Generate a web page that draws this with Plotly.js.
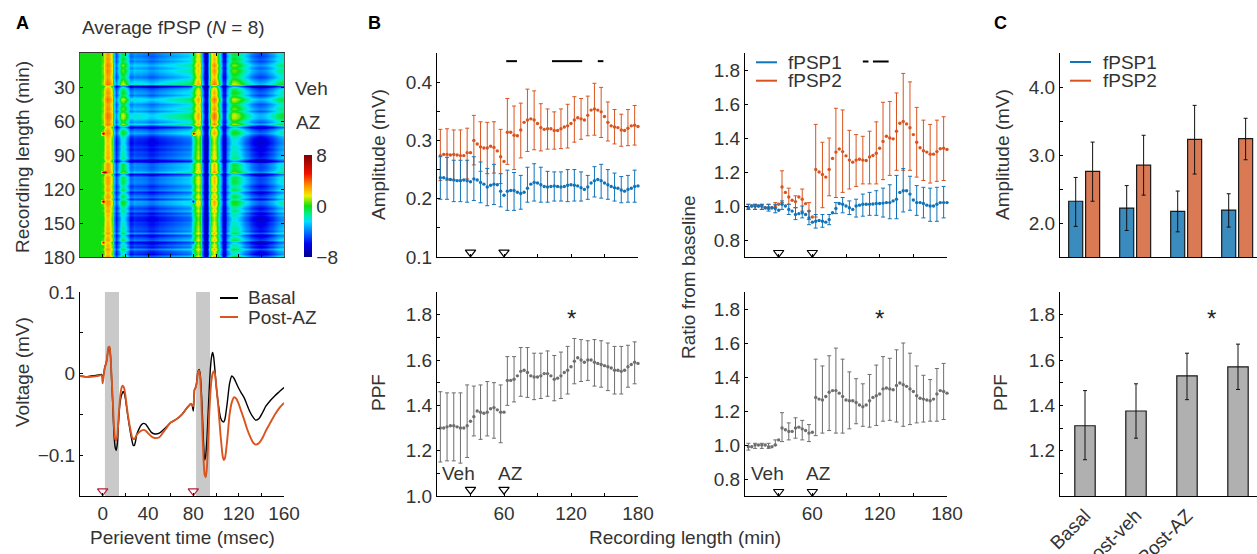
<!DOCTYPE html>
<html><head><meta charset="utf-8">
<script src="https://cdn.plot.ly/plotly-3.0.1.min.js"></script>
<style>html,body{margin:0;padding:0;background:#fff;overflow:hidden}#c{width:1257px;height:554px}</style>
</head><body><div id="c"></div>
<script>
// ---------- DATA ----------
const heatTimes=[-20,-18,-16,-14,-12,-10,-8,-6,-4,-2,0,2,4,6,8,10,12,14,16,18,20,22,24,26,28,30,32,34,36,38,40,42,44,46,48,50,52,54,56,58,60,62,64,66,68,70,72,74,76,78,80,82,84,86,88,90,92,94,96,98,100,102,104,106,108,110,112,114,116,118,120,122,124,126,128,130,132,134,136,138,140,142,144,146,148,150,152,154,156,158,160];
const heatProfile=[0,0,0,0,0,0,0,0,0,0,0.3,2,2.9,2.6,1,-3,-5,-3,-1.2,-0.8,-1.5,-3,-4.5,-4.5,-4,-4.2,-4.2,-4.2,-4.3,-4.4,-4.6,-4.8,-4.8,-4.6,-4.5,-4.3,-4.2,-4.1,-4,-3.9,-3.8,-3.7,-3.6,-3.5,-3.4,-3.3,-3.2,-3.1,-3,-2.6,-1,0.8,1.5,0.6,-3.5,-7,-7,-2.5,1,2.2,1.4,-0.5,-3.5,-6,-6,-3.5,-2,-1,-0.8,-1,-1.5,-2,-2.5,-3,-3.5,-4,-4.4,-4.8,-5,-5.2,-5.2,-5,-4.8,-4.5,-4.2,-3.8,-3.4,-3,-2.7,-2.4,-2.2];
const heatRows=[1,3,5,7,9,11,13,15,17,19,21,23,25,27,29,31,33,35,37,39,41,43,45,47,49,51,53,55,57,59,61,63,65,67,69,71,73,75,77,79,81,83,85,87,89,91,93,95,97,99,101,103,105,107,109,111,113,115,117,119,121,123,125,127,129,131,133,135,137,139,141,143,145,147,149,151,153,155,157,159,161,163,165,167,169,171,173,175,177,179];
const rowOffset=[0.5,0.2,0.8,0.3,1,1.6,0.8,1.4,1.2,0.6,0.2,0.9,1.5,2.2,-2.5,-0.3,0.4,0.9,0.2,1.2,2.2,1.4,0.5,0.9,1.5,0.6,1.8,2.2,2,1.2,0.7,1.9,-2,-0.2,0.5,1,-0.5,-1,-1.2,-1.4,-1.1,-0.8,-1.2,-0.6,-0.8,-0.5,-0.2,-2.6,0.2,0.5,0.3,0.6,1.4,-1.8,0.4,0.2,0.4,0.3,-0.6,-0.2,0.3,-1.2,0,0.5,-0.9,0.9,0.7,-0.1,-0.7,0.1,-1.2,-0.6,-1.3,-1.4,-0.9,-1,-0.7,-0.4,-0.8,0.6,-1.5,-0.3,0.2,-1.8,-0.5,-1,0.6,-0.7,-1.2,0.3];
const colBlend=[0,0,0,0,0,0,0,0,0,0,0.3,0.4,0.4,0.4,0.5,0.6,0.6,0.8,1,1,1,1,1,1,1,1,1,1,1,1,1,1,1,1,1,1,1,1,1,1,1,1,1,1,1,1,1,1,1,1,0.6,0.6,0.6,0.6,0.6,0.3,0.3,0.6,0.7,0.7,0.7,0.7,0.6,0.4,0.4,0.6,0.8,1,1,1,1,1,1,1,1,1,1,1,1,1,1,1,1,1,1,1,1,1,1,1,1];
const spikeRow=[35,35,52,52,65,65,83,83];
const spikeCol=[10,50,10,11,10,50,10,50];
const spikeVal=[7.5,7.5,7.5,7,8,-7,6,-5];

const traceTime=[-20,-15,-10,-5,-1,0,1,2,3,4,5,6,7,8,9,10,11,12,13,14,15,16,17,18,19,20,22,24,26,27,28,29,30,32,34,36,38,40,43,46,50,55,60,65,70,75,78,79,80,81,82,83,84,85,86,87,88,89,90,91,92,93,94,95,96,97,98,99,100,102,104,106,107,108,110,112,114,116,118,120,122,125,127,130,133,135,138,141,144,148,152,156,160];
const basal=[-0.003,-0.004,-0.003,-0.002,-0.001,-0.005,0,0.009,0.012,0.02,0.031,0.033,0.02,-0.01,-0.04,-0.075,-0.09,-0.094,-0.085,-0.06,-0.04,-0.03,-0.025,-0.022,-0.024,-0.03,-0.05,-0.068,-0.083,-0.088,-0.088,-0.083,-0.075,-0.068,-0.063,-0.061,-0.062,-0.066,-0.072,-0.074,-0.073,-0.067,-0.06,-0.056,-0.05,-0.041,-0.037,-0.039,-0.046,-0.02,-0.017,-0.01,0.002,0.005,0,-0.02,-0.05,-0.085,-0.106,-0.1,-0.08,-0.05,-0.02,0.005,0.02,0.026,0.02,0.005,-0.012,-0.037,-0.054,-0.059,-0.059,-0.055,-0.035,-0.012,-0.003,-0.006,-0.012,-0.018,-0.023,-0.03,-0.037,-0.047,-0.054,-0.057,-0.055,-0.048,-0.04,-0.033,-0.027,-0.022,-0.017];
const postAZ=[-0.003,-0.004,-0.004,-0.003,-0.002,-0.012,-0.002,0.008,0.012,0.02,0.032,0.033,0.02,-0.008,-0.035,-0.065,-0.08,-0.082,-0.075,-0.055,-0.035,-0.022,-0.016,-0.015,-0.018,-0.026,-0.048,-0.065,-0.078,-0.08,-0.08,-0.078,-0.075,-0.072,-0.07,-0.069,-0.07,-0.073,-0.077,-0.079,-0.078,-0.069,-0.06,-0.056,-0.05,-0.041,-0.037,-0.039,-0.04,-0.02,-0.017,-0.012,0.001,0.004,-0.004,-0.03,-0.07,-0.105,-0.124,-0.127,-0.115,-0.085,-0.05,-0.025,-0.008,0,0.003,0,-0.012,-0.04,-0.075,-0.102,-0.106,-0.103,-0.08,-0.05,-0.035,-0.029,-0.031,-0.037,-0.045,-0.057,-0.066,-0.077,-0.085,-0.087,-0.085,-0.079,-0.07,-0.06,-0.05,-0.042,-0.036];

const minutes=[3,6,9,12,15,18,21,24,27,30,33,36,39,42,45,48,51,54,57,60,63,66,69,72,75,78,81,84,87,90,93,96,99,102,105,108,111,114,117,120,123,126,129,132,135,138,141,144,147,150,153,156,159,162,165,168,171,174,177,180];
const ampF2=[0.274,0.276,0.276,0.275,0.276,0.275,0.274,0.274,0.279,0.279,0.300,0.294,0.289,0.287,0.287,0.290,0.288,0.282,0.272,0.264,0.314,0.314,0.309,0.308,0.318,0.331,0.335,0.337,0.335,0.329,0.322,0.319,0.320,0.320,0.317,0.317,0.320,0.323,0.325,0.329,0.335,0.339,0.337,0.335,0.343,0.352,0.354,0.352,0.349,0.341,0.331,0.325,0.323,0.322,0.318,0.317,0.321,0.325,0.326,0.324];
const ampF2Hi=[.319,.320,.318,.318,.321,.343,.332,.331,.332,.319,.372,.359,.364,.388,.385,.363,.354,.349,.354,.362,.375,.372,.376,.398,.391,.366,.353,.345,.353,.360];
const ampF2Lo=[.231,.232,.232,.232,.234,.258,.247,.243,.244,.226,.259,.250,.270,.281,.284,.282,.285,.285,.286,.287,.297,.302,.308,.309,.305,.299,.294,.290,.291,.292];
const ampF1=[.236,.236,.234,.233,.232,.231,.231,.232,.231,.229,.234,.232,.228,.225,.220,.223,.225,.224,.213,.206,.213,.214,.214,.211,.209,.211,.218,.225,.228,.227,.224,.221,.220,.221,.222,.221,.220,.221,.223,.224,.223,.222,.219,.216,.220,.227,.231,.233,.231,.227,.224,.221,.219,.218,.215,.213,.216,.218,.221,.222];
const ampF1Hi=[.272,.271,.266,.266,.266,.272,.263,.252,.259,.243,.249,.245,.240,.254,.260,.254,.247,.246,.246,.250,.250,.246,.240,.255,.259,.250,.244,.238,.240,.249];
const ampF1Lo=[.199,.199,.195,.195,.194,.197,.193,.188,.190,.186,.180,.180,.182,.194,.196,.194,.194,.196,.196,.195,.196,.196,.199,.203,.201,.199,.196,.193,.194,.194];
const ratF2=[.99,1,1,1,1,.99,.99,.99,1,1.01,1.112,1.08,1.053,1.034,1.026,1.053,1.04,1.014,.97,.935,1.215,1.2,1.185,1.17,1.215,1.28,1.317,1.335,1.32,1.295,1.27,1.258,1.27,1.275,1.27,1.268,1.288,1.297,1.31,1.34,1.38,1.41,1.4,1.395,1.44,1.487,1.497,1.483,1.46,1.42,1.375,1.343,1.325,1.317,1.305,1.305,1.32,1.337,1.34,1.333];
const ratF2Hi=[1.01,1.01,1.01,1.01,1.02,1.207,1.105,1.06,1.1,1.02,1.48,1.375,1.4,1.575,1.565,1.445,1.42,1.41,1.44,1.495,1.61,1.615,1.665,1.78,1.73,1.58,1.505,1.48,1.505,1.525];
const ratF2Lo=[.98,.98,.98,.98,.99,1.02,1.01,.99,.97,.92,.935,.99,1.06,1.05,1.08,1.1,1.115,1.13,1.13,1.13,1.155,1.18,1.21,1.21,1.21,1.17,1.15,1.135,1.145,1.15];
const ratF1=[.99,1,1,1,1,.99,.99,.99,.985,.975,1.01,1,.98,.97,.95,.955,.96,.95,.93,.905,.91,.915,.91,.905,.92,.96,.985,1.015,1.01,1,.99,.98,1,1.005,1.01,1.01,1.01,1.012,1.015,1.015,1.017,1.02,1.02,1.03,1.04,1.08,1.09,1.09,1.07,1.035,1.02,1.02,1.015,1.005,1,1,1.01,1.02,1.02,1.02];
const ratF1Hi=[1.01,1.01,1.01,1.01,1.01,1.03,1.01,.99,1,.97,.95,.95,.95,1.02,1.05,1.03,1.04,1.07,1.08,1.09,1.105,1.125,1.18,1.22,1.175,1.12,1.11,1.105,1.11,1.115];
const ratF1Lo=[.98,.98,.98,.97,.96,.98,.95,.92,.93,.89,.87,.875,.89,.955,.96,.95,.935,.94,.945,.945,.935,.925,.925,.965,.975,.945,.93,.91,.91,.93];
const ppf=[1.30,1.30,1.305,1.31,1.31,1.305,1.30,1.30,1.31,1.33,1.35,1.375,1.37,1.365,1.37,1.385,1.39,1.38,1.37,1.37,1.51,1.51,1.515,1.53,1.55,1.555,1.545,1.53,1.525,1.525,1.53,1.54,1.54,1.53,1.515,1.52,1.53,1.545,1.555,1.57,1.595,1.61,1.60,1.59,1.60,1.60,1.59,1.585,1.58,1.575,1.57,1.565,1.555,1.555,1.55,1.555,1.57,1.58,1.59,1.585];
const ppfHi=[1.46,1.455,1.455,1.455,1.49,1.485,1.49,1.505,1.50,1.49,1.615,1.615,1.655,1.655,1.63,1.63,1.64,1.62,1.635,1.66,1.695,1.69,1.685,1.69,1.685,1.675,1.66,1.66,1.665,1.68];
const ppfLo=[1.15,1.155,1.155,1.145,1.17,1.265,1.25,1.265,1.255,1.235,1.40,1.415,1.44,1.435,1.425,1.43,1.44,1.42,1.43,1.45,1.495,1.505,1.51,1.485,1.48,1.465,1.45,1.45,1.48,1.495];
const ppfR=[.99,.99,1,1,1,1,.99,.99,1,1.03,1.10,1.09,1.08,1.08,1.10,1.105,1.095,1.085,1.07,1.075,1.28,1.27,1.265,1.285,1.31,1.32,1.32,1.305,1.285,1.265,1.26,1.26,1.25,1.235,1.225,1.235,1.26,1.28,1.29,1.30,1.33,1.335,1.33,1.325,1.35,1.365,1.355,1.345,1.33,1.315,1.29,1.275,1.27,1.265,1.26,1.27,1.30,1.32,1.315,1.305];
const ppfRHi=[1.01,1.01,1.01,1.01,1.03,1.19,1.13,1.16,1.145,1.12,1.505,1.465,1.525,1.57,1.505,1.43,1.39,1.36,1.415,1.47,1.52,1.51,1.56,1.60,1.54,1.465,1.41,1.385,1.45,1.48];
const ppfRLo=[.97,.98,.98,.98,1,1.02,1.03,1.04,1.03,1.02,1.055,1.07,1.085,1.07,1.07,1.095,1.125,1.11,1.105,1.115,1.14,1.145,1.135,1.11,1.12,1.13,1.135,1.14,1.14,1.15];

const sigAmpX=[62,71.6,null,103,130,null,144,149];
const sigRatX=[105,110,null,114,128];
const drugMin=[30,60];
const stimMs=[0,80];

const groups=['Basal','Post-veh','Post-AZ','Post-AZ<br>(late)'];
const groupPos=[0,1,2,3];
const barF1=[2.32,2.22,2.17,2.19], barF1Hi=[2.67,2.55,2.47,2.43], barF1Lo=[1.95,1.89,1.87,1.94];
const barF2=[2.76,2.85,3.23,3.24], barF2Hi=[3.19,3.29,3.73,3.54], barF2Lo=[2.32,2.41,2.72,2.93];
const barPPF=[1.31,1.375,1.53,1.57], barPPFHi=[1.465,1.495,1.63,1.67], barPPFLo=[1.16,1.255,1.425,1.47];

// ---------- STYLE ----------
const W=1257,H=554, FONT='"Liberation Sans", Arial, sans-serif', TXT='#333333', FS=19;
const BLUE='#1173ba', ORANGE='#d9541e', GREY='#6e6e6e', CRIM='#b3203f';
const px=(a,b)=>[a/W,b/W], py=(top,bot)=>[1-bot/H,1-top/H];
const zHeat=heatRows.map((_,r)=>heatProfile.map((v,c)=>v+rowOffset[r]*colBlend[c]));
spikeRow.forEach((r,i)=>{zHeat[r][spikeCol[i]]=spikeVal[i];});

function ax(n,dom,range,vals,labels,extra){
  const other=(n.charAt(0)==='x'?'y':'x')+n.slice(1);
  return Object.assign({anchor:other,domain:dom,range:range,tickmode:'array',tickvals:vals,ticktext:labels||vals.map(()=>''),ticks:'inside',ticklen:3,
    tickcolor:'#000',tickwidth:1,showgrid:false,zeroline:false,showline:true,linecolor:'#000',linewidth:1,
    tickfont:{family:FONT,size:FS,color:TXT},fixedrange:true},extra||{});
}
const lab=(vals,show)=>vals.map(v=>show.includes(v)?String(v).replace('-','\u2212'):'');
const X30=[0,30,60,90,120,150,180];

const traces=[];
traces.push({type:'heatmap',x:heatTimes,y:heatRows,z:zHeat,zmin:-8,zmax:8,zsmooth:'best',xaxis:'x',yaxis:'y',
  colorscale:[[0,'#00008b'],[0.13,'#0000f0'],[0.24,'#0070ff'],[0.35,'#00e0ff'],[0.42,'#00f090'],[0.5,'#10e010'],[0.6,'#f0f000'],[0.7,'#ff9000'],[0.82,'#f01000'],[1,'#800000']],
  colorbar:{x:304/W,xanchor:'left',y:1-257/H,yanchor:'bottom',len:102,lenmode:'pixels',thickness:8,thicknessmode:'pixels',xpad:0,ypad:0,
    tickmode:'array',tickvals:[-8,0,8],ticktext:['\u22128','0','8'],ticks:'',tickfont:{family:FONT,size:FS,color:TXT},outlinewidth:0},hoverinfo:'skip'});
const tri=(xs,ys,xa,ya,sym,col,sz)=>({type:'scatter',mode:'markers',x:xs,y:ys,xaxis:xa,yaxis:ya,cliponaxis:false,showlegend:false,hoverinfo:'skip',
  marker:{symbol:sym,size:sz||9,color:'rgba(0,0,0,0)',line:{color:col,width:1.2}}});
traces.push(tri(stimMs,[-3.6,-3.6],'x','y','triangle-down',CRIM));
traces.push(tri([164,164],[30,60],'x','y','triangle-left','#000',8));
const line=(x,y,col,w,xa,ya)=>({type:'scatter',mode:'lines',x,y,xaxis:xa,yaxis:ya,line:{color:col,width:w,shape:'spline',smoothing:0.6},showlegend:false,hoverinfo:'skip'});
traces.push(line(traceTime,basal,'#000',1.4,'x2','y2'));
traces.push(line(traceTime,postAZ,ORANGE,1.9,'x2','y2'));
traces.push(tri(stimMs,[-0.144,-0.144],'x2','y2','triangle-down',CRIM));

function series(y,hi,lo,col,xa,ya){
  const ex=minutes.filter((_,i)=>i%2===0), ey=y.filter((_,i)=>i%2===0);
  traces.push({type:'scatter',mode:'markers',x:ex,y:ey,xaxis:xa,yaxis:ya,marker:{size:1,opacity:0},showlegend:false,hoverinfo:'skip',cliponaxis:false,
    error_y:{type:'data',symmetric:false,array:hi.map((h,i)=>h-ey[i]),arrayminus:lo.map((l,i)=>ey[i]-l),color:col,thickness:1,width:2}});
  traces.push({type:'scatter',mode:'markers',x:minutes,y,xaxis:xa,yaxis:ya,marker:{size:3.4,color:col},showlegend:false,hoverinfo:'skip',cliponaxis:false});
}
series(ampF2,ampF2Hi,ampF2Lo,ORANGE,'x3','y3'); series(ampF1,ampF1Hi,ampF1Lo,BLUE,'x3','y3');
series(ratF2,ratF2Hi,ratF2Lo,ORANGE,'x4','y4'); series(ratF1,ratF1Hi,ratF1Lo,BLUE,'x4','y4');
series(ppf,ppfHi,ppfLo,GREY,'x5','y5'); series(ppfR,ppfRHi,ppfRLo,GREY,'x6','y6');
traces.push(tri(drugMin,[0.108,0.108],'x3','y3','triangle-down','#000'));
traces.push(tri(drugMin,[0.725,0.725],'x4','y4','triangle-down','#000'));
traces.push(tri(drugMin,[1.028,1.028],'x5','y5','triangle-down','#000'));
traces.push(tri(drugMin,[0.725,0.725],'x6','y6','triangle-down','#000'));
const sig=(xs,v,xa,ya)=>({type:'scatter',mode:'lines',x:xs,y:xs.map(q=>q===null?null:v),xaxis:xa,yaxis:ya,line:{color:'#000',width:2},showlegend:false,hoverinfo:'skip',cliponaxis:false,connectgaps:false});
traces.push(sig(sigAmpX,0.436,'x3','y3'));
traces.push(sig(sigRatX,1.85,'x4','y4'));

const bar=(y,hi,lo,col,xa,ya,extra)=>Object.assign({type:'bar',x:groupPos,y,xaxis:xa,yaxis:ya,marker:{color:col,line:{color:'#1a1a1a',width:1.2}},showlegend:false,hoverinfo:'skip',
  error_y:{type:'data',symmetric:false,array:hi.map((h,i)=>h-y[i]),arrayminus:lo.map((l,i)=>y[i]-l),color:'#111',thickness:1,width:2}},extra||{});
traces.push(bar(barF1,barF1Hi,barF1Lo,'#3a8cbf','x7','y7',{width:0.275,offset:-0.32}));
traces.push(bar(barF2,barF2Hi,barF2Lo,'#d97a55','x7','y7',{width:0.275,offset:0.012}));
traces.push(bar(barPPF,barPPFHi,barPPFLo,'#b0b0b0','x8','y8',{width:0.4}));

const CR=[-25/51,172/51];
const layout={width:W,height:H,margin:{l:0,r:0,t:0,b:0,autoexpand:false},paper_bgcolor:'#fff',plot_bgcolor:'#fff',showlegend:false,
  font:{family:FONT,size:FS,color:TXT},barmode:'overlay',
  xaxis:ax('x',px(80,284),[-20,160],[0,20,40,60,80,100,120,140,160],null,{mirror:'ticks',linecolor:'#333'}),
  yaxis:ax('y',py(53,257),[180,0],[30,60,90,120,150,180],['30','60','90','120','150','180'],{mirror:'ticks',linecolor:'#555'}),
  xaxis2:ax('x2',px(80,284),[-20,160],[-20,0,20,40,60,80,100,120,140,160],lab([-20,0,20,40,60,80,100,120,140,160],[0,40,80,120,160])),
  yaxis2:ax('y2',py(292,496),[-0.15,0.1],[-0.15,-0.1,-0.05,0,0.05,0.1],['','\u22120.1','','0','','0.1']),
  xaxis3:ax('x3',px(437,638),[0,180],X30,null),
  yaxis3:ax('y3',py(53,257),[0.1,0.45],[0.1,0.15,0.2,0.25,0.3,0.35,0.4,0.45],['0.1','','0.2','','0.3','','0.4','']),
  xaxis4:ax('x4',px(745,947),[0,180],X30,null),
  yaxis4:ax('y4',py(53,257),[0.7,1.9],[0.8,1,1.2,1.4,1.6,1.8],['0.8','1.0','1.2','1.4','1.6','1.8']),
  xaxis5:ax('x5',px(437,638),[0,180],X30,lab(X30,[60,120,180])),
  yaxis5:ax('y5',py(292,496),[1,1.9],[1,1.1,1.2,1.3,1.4,1.5,1.6,1.7,1.8,1.9],['1.0','','1.2','','1.4','','1.6','','1.8','']),
  xaxis6:ax('x6',px(745,947),[0,180],X30,lab(X30,[60,120,180])),
  yaxis6:ax('y6',py(292,496),[0.7,1.9],[0.8,1,1.2,1.4,1.6,1.8],['0.8','1.0','1.2','1.4','1.6','1.8']),
  xaxis7:ax('x7',px(1060,1257),CR,[],[],{}),
  yaxis7:ax('y7',py(53,257),[1.5,4.5],[1.5,2,2.5,3,3.5,4,4.5],['','2.0','','3.0','','4.0','']),
  xaxis8:ax('x8',px(1060,1257),CR,groupPos,groups,{ticks:'',tickangle:-45}),
  yaxis8:ax('y8',py(292,496),[1,1.9],[1,1.1,1.2,1.3,1.4,1.5,1.6,1.7,1.8,1.9],['','','1.2','','1.4','','1.6','','1.8','']),
  shapes:[],annotations:[]
};
[[2,14.4],[82.4,94.7]].forEach(e=>layout.shapes.push({type:'rect',xref:'x2',yref:'y2',x0:e[0],x1:e[1],y0:-0.15,y1:0.1,fillcolor:'#c9c9c9',line:{width:0},layer:'below'}));
const lg=(x0,x1,y,c,w)=>layout.shapes.push({type:'line',xref:'paper',yref:'paper',x0:x0/W,x1:x1/W,y0:1-y/H,y1:1-y/H,line:{color:c,width:w||2}});
lg(220,238,298,'#000');lg(220,238,317,ORANGE);
lg(756,777,62.3,BLUE);lg(756,777,80.7,ORANGE);
lg(1070,1091,62,BLUE);lg(1070,1091,80.7,ORANGE);
const T=(txt,x,y,o)=>layout.annotations.push(Object.assign({text:txt,xref:'paper',yref:'paper',x:x/W,y:1-y/H,xanchor:'center',yanchor:'middle',showarrow:false,font:{family:FONT,size:FS,color:TXT}},o||{}));
const bold={font:{family:FONT,size:18,color:'#000'}};
T('<b>A</b>',22,23,bold);T('<b>B</b>',375,23,bold);T('<b>C</b>',1000,23,bold);
T('Average fPSP (<i>N</i> = 8)',173,27);
T('Veh',311,88);T('AZ',308,122);
T('Recording length (min)',22,157,{textangle:-90});
T('Voltage (mV)',22,372,{textangle:-90});
T('Perievent time (msec)',182,537);
T('Basal',246,297,{xanchor:'left'});T('Post-AZ',246,317,{xanchor:'left'});
T('Amplitude (mV)',378,155,{textangle:-90});
T('PPF',378,393,{textangle:-90});
T('Ratio from baseline',688,277,{textangle:-90});
T('Recording length (min)',685,537);
T('fPSP1',786,62,{xanchor:'left'});T('fPSP2',786,81,{xanchor:'left'});
T('fPSP1',1101,62,{xanchor:'left'});T('fPSP2',1101,81,{xanchor:'left'});
T('Veh',459,474);T('AZ',510,474);T('Veh',767,474);T('AZ',818,474);
const star={font:{family:FONT,size:24,color:'#222'}};
T('*',571,318,star);T('*',879,318,star);T('*',1211,318,star);
T('Amplitude (mV)',1002,155,{textangle:-90});
T('PPF',1000,393,{textangle:-90});
Plotly.newPlot('c',traces,layout,{staticPlot:true,displayModeBar:false});
</script></body></html>
